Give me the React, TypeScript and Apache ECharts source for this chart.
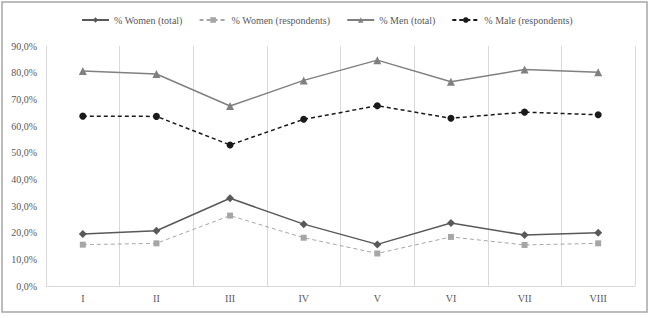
import React, { useEffect, useRef } from "react";
import * as echarts from "echarts";

const categories = ["I", "II", "III", "IV", "V", "VI", "VII", "VIII"];
const womenTotal = [19.5, 20.7, 32.9, 23.2, 15.6, 23.6, 19.1, 20.0];
const womenRespondents = [15.5, 16.0, 26.4, 18.1, 12.2, 18.4, 15.4, 16.0];
const menTotal = [80.6, 79.5, 67.5, 77.1, 84.7, 76.6, 81.2, 80.2];
const maleRespondents = [63.7, 63.6, 52.9, 62.5, 67.6, 62.9, 65.2, 64.2];
const seriesNames = ["% Women (total)", "% Women (respondents)", "% Men (total)", "% Male (respondents)"];

const FONT = "'Liberation Serif', 'Times New Roman', serif";

export default function App() {
  const ref = useRef<HTMLDivElement>(null);
  useEffect(() => {
    document.body.style.margin = "0";
    const chart = echarts.init(ref.current!, null, { renderer: "svg" });
    chart.setOption({
      animation: false,
      backgroundColor: "#ffffff",
      graphic: [
        {
          type: "rect",
          shape: { x: 2, y: 2, width: 645, height: 310 },
          style: { fill: "none", stroke: "#a6a6a6", lineWidth: 1.5 },
          silent: true,
        },
      ],
      legend: {
        top: 10,
        left: 76,
        itemWidth: 27,
        itemHeight: 7,
        itemGap: 16,
        textStyle: { fontFamily: FONT, fontSize: 10, color: "#595959" },
        data: seriesNames,
      },
      grid: { left: 46, right: 15, top: 46, bottom: 32 },
      xAxis: {
        type: "category",
        data: categories,
        boundaryGap: true,
        axisLine: { lineStyle: { color: "#d9d9d9", width: 1 } },
        axisTick: { show: false },
        splitLine: { show: true, lineStyle: { color: "#d9d9d9", width: 1 } },
        axisLabel: { fontFamily: FONT, fontSize: 10, color: "#595959", margin: 7 },
      },
      yAxis: {
        type: "value",
        min: 0,
        max: 90,
        interval: 10,
        axisLine: { show: false },
        axisTick: { show: false },
        splitLine: { show: false },
        axisLabel: {
          fontFamily: FONT,
          fontSize: 10,
          color: "#595959",
          margin: 9,
          formatter: (v: number) => v.toFixed(1).replace(".", ",") + "%",
        },
      },
      series: [
        {
          name: seriesNames[0],
          type: "line",
          data: womenTotal,
          symbol: "diamond",
          symbolSize: 8,
          lineStyle: { color: "#595959", width: 1.5 },
          itemStyle: { color: "#595959" },
        },
        {
          name: seriesNames[1],
          type: "line",
          data: womenRespondents,
          symbol: "rect",
          symbolSize: 6,
          lineStyle: { color: "#a6a6a6", width: 1, type: [4, 3] },
          itemStyle: { color: "#a6a6a6" },
        },
        {
          name: seriesNames[2],
          type: "line",
          data: menTotal,
          symbol: "triangle",
          symbolSize: 8,
          lineStyle: { color: "#808080", width: 1.5 },
          itemStyle: { color: "#808080" },
        },
        {
          name: seriesNames[3],
          type: "line",
          data: maleRespondents,
          symbol: "circle",
          symbolSize: 7,
          lineStyle: { color: "#1a1a1a", width: 1.5, type: [4, 3] },
          itemStyle: { color: "#1a1a1a" },
        },
      ],
    });
    return () => chart.dispose();
  }, []);
  return <div ref={ref} style={{ width: 650, height: 318 }} />;
}
